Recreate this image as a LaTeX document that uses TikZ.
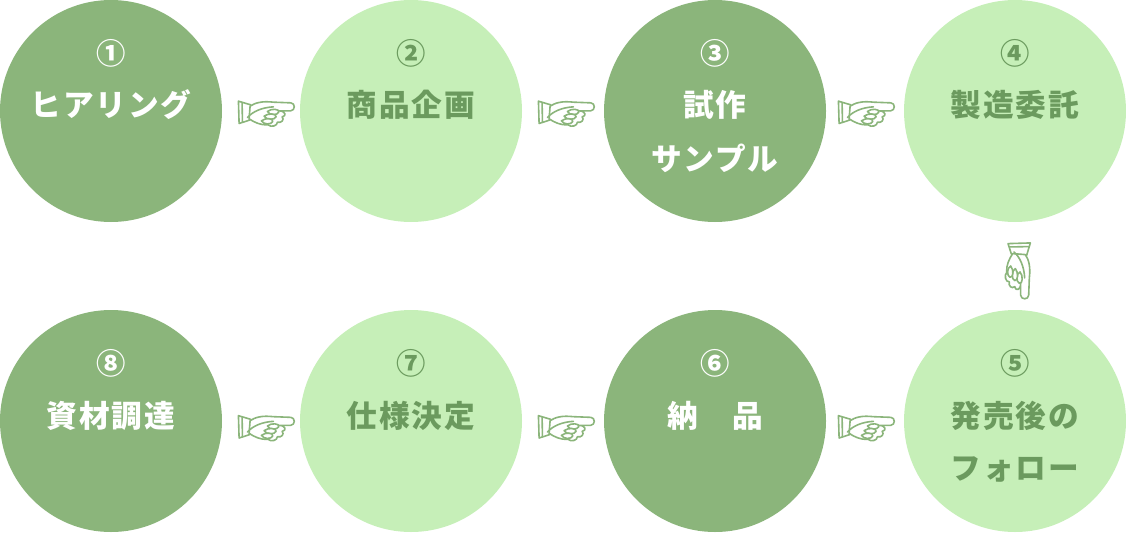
\documentclass[tikz,border=0pt]{standalone}
\usepackage{fontspec}
\usetikzlibrary{calc}
\setmainfont{Noto Sans CJK JP}[LetterSpace=6]
\definecolor{darkc}{HTML}{8BB57B}
\definecolor{lightc}{HTML}{C6EFB8}
\definecolor{txt}{HTML}{6B9A5E}
\tikzset{
  bub/.style={circle,inner sep=0pt,minimum size=166.5pt},
  darkb/.style={bub,fill=darkc},
  lightb/.style={bub,fill=lightc},
  num/.style={font=\fontsize{22}{22}\bfseries\selectfont,inner sep=0pt},
  lab/.style={font=\fontsize{23}{23}\bfseries\selectfont,inner sep=0pt},
  onD/.style={text=white},
  onL/.style={text=txt},
  handline/.style={draw=darkc,line width=1.2pt,fill=white,line cap=round,line join=round},
  hand/.pic={
    \begin{scope}[x=0.25pt,y=-0.25pt,shift={(-137,-98)}]
      \path[handline] (55,61) -- (92,72) -- (88,118) -- (57,128) -- cycle;
      \path[handline] (66,66) -- (67,124);
      \path[handline] (90,76) .. controls (105,66) and (125,60) .. (160,64) -- (212,66)
        .. controls (226,67) and (226,89) .. (212,90) -- (176,90)
        .. controls (198,90) and (200,106) .. (186,108)
        .. controls (194,116) and (184,128) .. (172,124)
        .. controls (172,136) and (152,140) .. (144,132)
        .. controls (122,134) and (102,124) .. (87,114) -- cycle;
      \path[handline,fill=none] (82,110) .. controls (98,92) and (125,80) .. (160,78);
      \path[handline] (142,92) .. controls (152,82) and (180,84) .. (176,94) .. controls (172,104) and (148,104) .. (142,92) -- cycle;
      \path[handline] (132,106) .. controls (144,96) and (170,98) .. (168,108) .. controls (164,118) and (138,118) .. (132,106) -- cycle;
      \path[handline] (124,120) .. controls (136,110) and (160,112) .. (158,122) .. controls (154,132) and (130,132) .. (124,120) -- cycle;
    \end{scope}
  }
}
\begin{document}
\begin{tikzpicture}[x=0.75pt,y=-0.75pt]
\useasboundingbox (0,0) rectangle (1126,532);
\node[darkb]  (c1) at (111,111) {};
\node[lightb] (c2) at (411,111) {};
\node[darkb]  (c3) at (715,111) {};
\node[lightb] (c4) at (1015,111) {};
\node[lightb] (c5) at (1015,421) {};
\node[darkb]  (c6) at (715,421) {};
\node[lightb] (c7) at (411,421) {};
\node[darkb]  (c8) at (111,421) {};
\node[num,onD] (n1) at (111,53) {①};
\node[num,onL] (n2) at (411,53) {②};
\node[num,onD] (n3) at (715,53) {③};
\node[num,onL] (n4) at (1015,53) {④};
\node[num,onL] (n5) at (1015,363) {⑤};
\node[num,onD] (n6) at (715,363) {⑥};
\node[num,onL] (n7) at (411,363) {⑦};
\node[num,onD] (n8) at (111,363) {⑧};
\node[lab,onD] (l1) at (111,105) {ヒアリング};
\node[lab,onL] (l2) at (411,105) {商品企画};
\node[lab,onD] (l3a) at (715,105) {試作};
\node[lab,onD] (l3b) at (715,158) {サンプル};
\node[lab,onL] (l4) at (1015,105) {製造委託};
\node[lab,onL] (l5a) at (1015,416) {発売後の};
\node[lab,onL] (l5b) at (1015,469) {フォロー};
\node[lab,onD] (l6) at (715,416) {納　品};
\node[lab,onL] (l7) at (411,416) {仕様決定};
\node[lab,onD] (l8) at (111,416) {資材調達};
\pic at ($(c1.east)+(43.5,2.5)$) {hand};
\pic at ($(c2.east)+(43.5,2.5)$) {hand};
\pic at ($(c3.east)+(39.5,2.5)$) {hand};
\pic[rotate=-90] at ($(c4.south)+(3,48)$) {hand};
\pic at ($(c6.east)+(39.5,7)$) {hand};
\pic at ($(c7.east)+(43.5,7)$) {hand};
\pic at ($(c8.east)+(43.5,7)$) {hand};
\end{tikzpicture}
\end{document}
